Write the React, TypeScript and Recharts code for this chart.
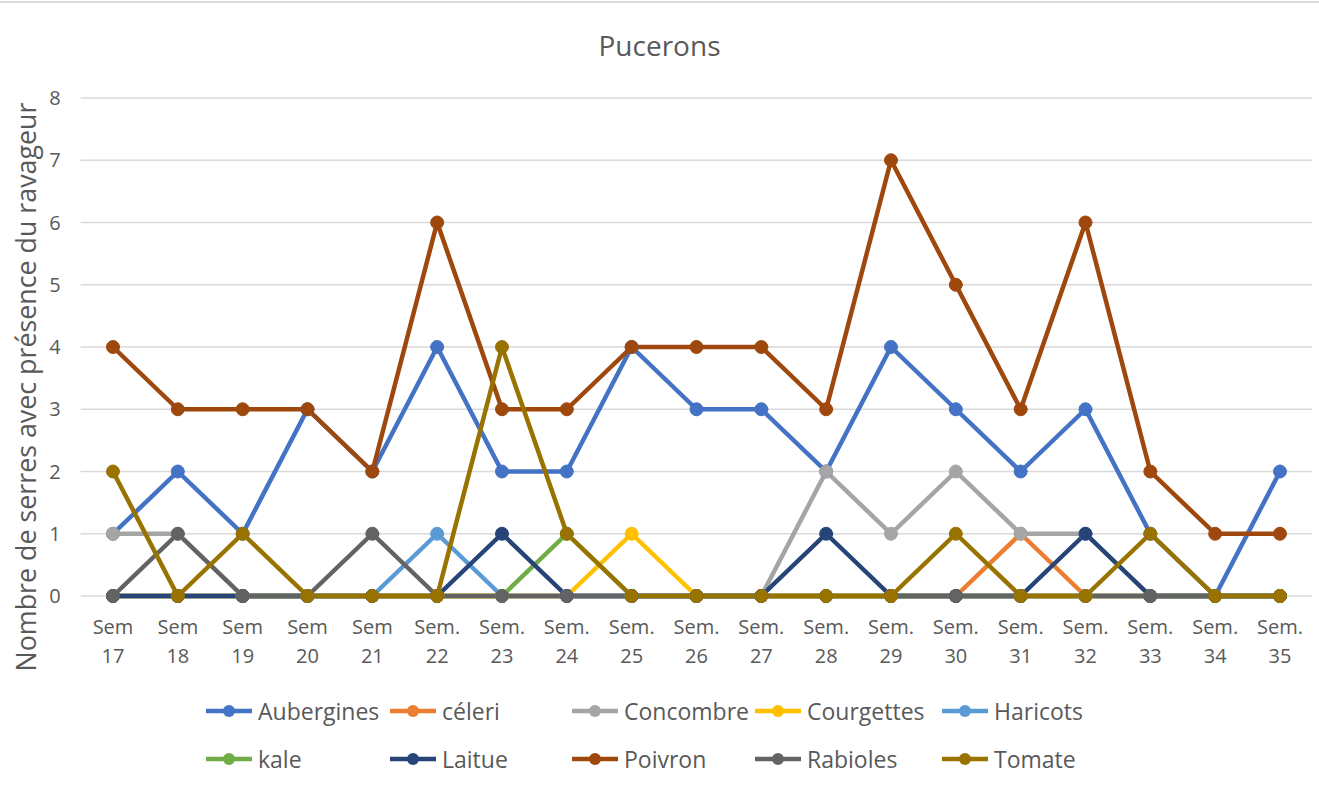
import React from "react";
import { LineChart, Line, XAxis, YAxis, CartesianGrid } from "recharts";

const weeks = [
  "Sem 17", "Sem 18", "Sem 19", "Sem 20", "Sem 21", "Sem. 22", "Sem. 23", "Sem. 24", "Sem. 25",
  "Sem. 26", "Sem. 27", "Sem. 28", "Sem. 29", "Sem. 30", "Sem. 31", "Sem. 32", "Sem. 33", "Sem. 34", "Sem. 35",
];

const aubergines = [1, 2, 1, 3, 2, 4, 2, 2, 4, 3, 3, 2, 4, 3, 2, 3, 1, 0, 2];
const celeri = [0, 0, 0, 0, 0, 0, 0, 0, 0, 0, 0, 0, 0, 0, 1, 0, 0, 0, 0];
const concombre = [1, 1, 0, 0, 0, 0, 0, 0, 0, 0, 0, 2, 1, 2, 1, 1, 0, 0, 0];
const courgettes = [0, 0, 0, 0, 0, 0, 0, 0, 1, 0, 0, 0, 0, 0, 0, 0, 0, 0, 0];
const haricots = [0, 0, 0, 0, 0, 1, 0, 0, 0, 0, 0, 0, 0, 0, 0, 0, 0, 0, 0];
const kale = [0, 0, 0, 0, 0, 0, 0, 1, 0, 0, 0, 0, 0, 0, 0, 0, 0, 0, 0];
const laitue = [0, 0, 0, 0, 0, 0, 1, 0, 0, 0, 0, 1, 0, 0, 0, 1, 0, 0, 0];
const poivron = [4, 3, 3, 3, 2, 6, 3, 3, 4, 4, 4, 3, 7, 5, 3, 6, 2, 1, 1];
const rabioles = [0, 1, 0, 0, 1, 0, 0, 0, 0, 0, 0, 0, 0, 0, 0, 0, 0, 0, 0];
const tomate = [2, 0, 1, 0, 0, 0, 4, 1, 0, 0, 0, 0, 0, 1, 0, 0, 1, 0, 0];

const yTicks = [0, 1, 2, 3, 4, 5, 6, 7, 8];

const series = [
  { key: "Aubergines", values: aubergines, color: "#4472C4" },
  { key: "céleri", values: celeri, color: "#ED7D31" },
  { key: "Concombre", values: concombre, color: "#A5A5A5" },
  { key: "Courgettes", values: courgettes, color: "#FFC000" },
  { key: "Haricots", values: haricots, color: "#5B9BD5" },
  { key: "kale", values: kale, color: "#70AD47" },
  { key: "Laitue", values: laitue, color: "#264478" },
  { key: "Poivron", values: poivron, color: "#9E480E" },
  { key: "Rabioles", values: rabioles, color: "#636363" },
  { key: "Tomate", values: tomate, color: "#997300" },
];

const data = weeks.map((w, i) => {
  const row: Record<string, string | number> = { week: w };
  series.forEach((s) => {
    row[s.key] = s.values[i];
  });
  return row;
});

const FONT = "'Open Sans', 'Liberation Sans', sans-serif";
const TEXT = "#595959";

const XTick = (props: any) => {
  const { x, y, payload } = props;
  const parts = String(payload.value).split(" ");
  return (
    <text x={x} textAnchor="middle" fill={TEXT} fontSize={20} fontFamily={FONT}>
      <tspan x={x} y={y + 30}>{parts[0]}</tspan>
      <tspan x={x} y={y + 59}>{parts[1]}</tspan>
    </text>
  );
};

const colLeft = [206, 390, 572, 755, 942];

export default function App() {
  return (
    <div
      style={{
        position: "absolute",
        left: 0,
        top: 0,
        width: 1319,
        height: 793,
        background: "#fff",
        fontFamily: FONT,
        overflow: "hidden",
      }}
    >
      <div style={{ position: "absolute", left: 0, top: 1, width: 1319, height: 2, background: "#D9D9D9" }} />
      <div
        style={{
          position: "absolute",
          left: 0,
          width: 1319,
          top: 26,
          textAlign: "center",
          fontSize: 28,
          color: TEXT,
          lineHeight: "38px",
        }}
      >
        Pucerons
      </div>
      <div
        style={{
          position: "absolute",
          left: 26,
          top: 387,
          transform: "translate(-50%, -50%) rotate(-90deg)",
          whiteSpace: "nowrap",
          fontSize: 26.8,
          color: TEXT,
          lineHeight: "30px",
        }}
      >
        Nombre de serres avec présence du ravageur
      </div>
      <div style={{ position: "absolute", left: 0, top: 0 }}>
        <LineChart
          width={1319}
          height={793}
          data={data}
          margin={{ top: 98, right: 6.6, bottom: 137, left: 0 }}
        >
          <CartesianGrid vertical={false} stroke="#D9D9D9" strokeWidth={1.5} />
          <XAxis
            dataKey="week"
            height={60}
            axisLine={false}
            tickLine={false}
            interval={0}
            padding={{ left: 32.4, right: 32.4 }}
            tick={<XTick />}
          />
          <YAxis
            width={80.6}
            domain={[0, 8]}
            ticks={yTicks}
            axisLine={false}
            tickLine={false}
            tickMargin={14}
            tick={{ fill: TEXT, fontSize: 20, fontFamily: FONT }}
          />
          {series.map((s) => (
            <Line
              key={s.key}
              type="linear"
              dataKey={s.key}
              stroke={s.color}
              strokeWidth={4.5}
              strokeLinejoin="round"
              strokeLinecap="round"
              dot={{ r: 6.5, fill: s.color, stroke: s.color, strokeWidth: 1 }}
              activeDot={false}
              isAnimationActive={false}
            />
          ))}
        </LineChart>
      </div>
      {series.map((s, i) => {
        const row = Math.floor(i / 5);
        const col = i % 5;
        return (
          <div
            key={s.key}
            style={{
              position: "absolute",
              left: colLeft[col],
              top: (row === 0 ? 711 : 759) - 16,
              height: 32,
              display: "flex",
              alignItems: "center",
              whiteSpace: "nowrap",
            }}
          >
            <svg width={46} height={16} style={{ display: "block" }}>
              <line x1={0} y1={8} x2={46} y2={8} stroke={s.color} strokeWidth={4.5} />
              <circle cx={23} cy={8} r={6} fill={s.color} />
            </svg>
            <span style={{ marginLeft: 6, fontSize: 23, color: TEXT, lineHeight: "32px" }}>{s.key}</span>
          </div>
        );
      })}
    </div>
  );
}
